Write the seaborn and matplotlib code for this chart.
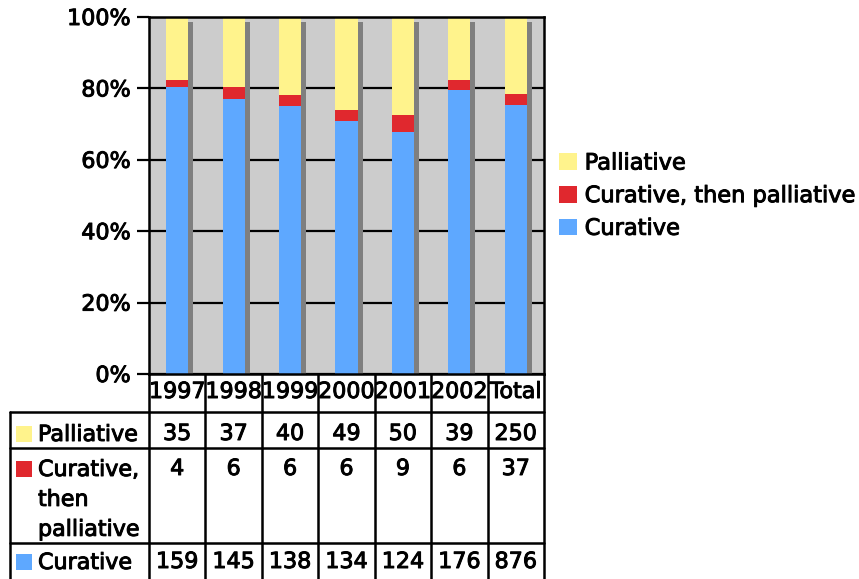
import matplotlib
matplotlib.use("Agg")
import matplotlib.pyplot as plt
import matplotlib.patheffects as pe
from matplotlib.patches import Rectangle
from matplotlib.lines import Line2D
import numpy as np
import pandas as pd
import seaborn as sns

# Patient counts per year and treatment intent
years = ["1997", "1998", "1999", "2000", "2001", "2002", "Total"]
palliative = [35, 37, 40, 49, 50, 39, 250]
curative_then_palliative = [4, 6, 6, 6, 9, 6, 37]
curative = [159, 145, 138, 134, 124, 176, 876]
series_names = ["Palliative", "Curative, then palliative", "Curative"]
table_labels = ["Palliative", "Curative,\nthen\npalliative", "Curative"]
y_ticks = [0, 20, 40, 60, 80, 100]

col_yellow = "#FFF38C"
col_red = "#E0282E"
col_blue = "#5EA8FF"
col_bg = "#CCCCCC"
col_shadow = "#7F7F7F"

sns.set_theme(style="white")
plt.rcParams["font.family"] = ["DejaVu Sans"]
plt.rcParams["text.color"] = "black"
plt.rcParams["ytick.color"] = "black"

# slightly heavier glyphs
heavy = [pe.withStroke(linewidth=0.7, foreground="black")]

W, H = 859, 579
fig = plt.figure(figsize=(W / 100, H / 100), dpi=100)
fig.patch.set_facecolor("white")

# plot area in pixel units
L, R, T, B = 149, 544, 17, 374
ax = fig.add_axes([L / W, 1 - B / H, (R - L) / W, (B - T) / H])

tot = np.array(palliative) + np.array(curative_then_palliative) + np.array(curative)
pct_cur = np.array(curative) / tot * 100
pct_mid = (np.array(curative) + np.array(curative_then_palliative)) / tot * 100
pct_top = np.full(len(years), 100.0)

df = pd.DataFrame({"year": years, "top": pct_top, "mid": pct_mid, "cur": pct_cur})

bw = 0.39
sns.barplot(data=df, x="year", y="top", color=col_yellow, saturation=1, width=bw,
            ax=ax, linewidth=0, zorder=3)
top_patches = list(ax.patches)
sns.barplot(data=df, x="year", y="mid", color=col_red, saturation=1, width=bw,
            ax=ax, linewidth=0, zorder=3)
sns.barplot(data=df, x="year", y="cur", color=col_blue, saturation=1, width=bw,
            ax=ax, linewidth=0, zorder=3)

# depth shading on the right side of each column
for p in top_patches:
    ax.add_patch(Rectangle((p.get_x() + p.get_width(), 0), 0.09, 98.6,
                           facecolor=col_shadow, edgecolor="none", zorder=2.9))

ax.set_facecolor(col_bg)
ax.set_xlim(-0.5, len(years) - 0.5)
ax.set_ylim(0, 100)
ax.set_yticks(y_ticks)
ax.set_yticklabels([f"{v}%" for v in y_ticks], fontsize=16)
for t in ax.get_yticklabels():
    t.set_path_effects(heavy)
ax.set_xticks([])
ax.set_xlabel("")
ax.set_ylabel("")
ax.yaxis.grid(True, color="black", linewidth=1.6, zorder=1)
ax.set_axisbelow(True)
ax.tick_params(axis="y", left=True, length=9, width=1.6, color="black", pad=4)
for s in ["left", "top", "right", "bottom"]:
    ax.spines[s].set_color("black")
    ax.spines[s].set_linewidth(1.8)
    ax.spines[s].set_zorder(5)

# legend
handles = [Rectangle((0, 0), 1, 1, facecolor=c, edgecolor="none")
           for c in [col_yellow, col_red, col_blue]]
leg = fig.legend(handles, series_names, loc="center left",
                 bbox_to_anchor=(539 / W, 1 - 196 / H), frameon=False, fontsize=16.2,
                 handlelength=0.78, handleheight=0.78, handletextpad=0.35,
                 labelspacing=0.55)
for t in leg.get_texts():
    t.set_path_effects(heavy)
    t.set_color("black")

# data table beneath the plot, drawn on a pixel-space overlay
ov = fig.add_axes([0, 0, 1, 1], zorder=10)
ov.set_xlim(0, W)
ov.set_ylim(H, 0)
ov.axis("off")
ov.patch.set_alpha(0)

lw = 1.8
col_edges = np.linspace(L, R, len(years) + 1)
row_edges = [B, 412, 448, 543, H + 5]
left_edge = 10

for x in col_edges:
    ov.add_line(Line2D([x, x], [B, H + 5], color="black", lw=lw))
ov.add_line(Line2D([left_edge, left_edge], [row_edges[1], H + 5], color="black", lw=lw))
for y in row_edges[1:4]:
    ov.add_line(Line2D([left_edge, R], [y, y], color="black", lw=lw))

fs = 16
centers = (col_edges[:-1] + col_edges[1:]) / 2
for cx, yr in zip(centers, years):
    ov.text(cx, 392, yr, ha="center", va="center", fontsize=fs, color="black",
            path_effects=heavy)

rows = [palliative, curative_then_palliative, curative]
row_text_y = [434, 469, 562]
label_colors = [col_yellow, col_red, col_blue]
for vals, ty, lab, c in zip(rows, row_text_y, table_labels, label_colors):
    for cx, v in zip(centers, vals):
        ov.text(cx, ty, str(v), ha="center", va="center", fontsize=fs, color="black",
                path_effects=heavy)
    ov.add_patch(Rectangle((16, ty - 8), 16, 16, facecolor=c, edgecolor="none"))
    ov.text(38, ty - 9, lab, ha="left", va="top", fontsize=fs, color="black",
            linespacing=1.62, path_effects=heavy)

fig.savefig("out.png", dpi=100, facecolor="white")
